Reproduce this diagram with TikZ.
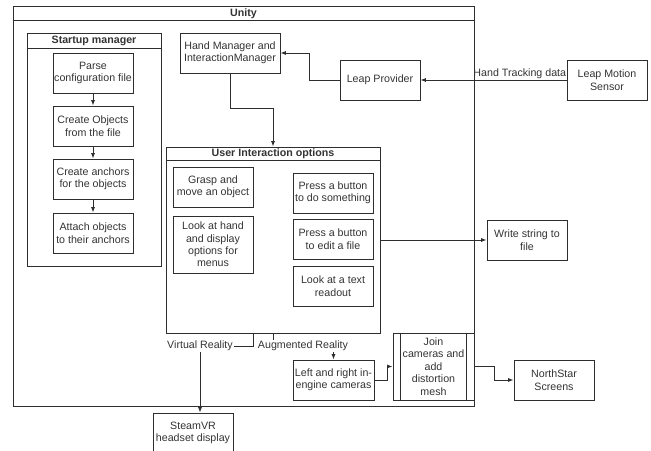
\documentclass[tikz,border=0pt]{standalone}
\usepackage{fontspec}
\setmainfont{Liberation Sans}
\usepackage{tikz}
\usetikzlibrary{arrows.meta,positioning,calc}
\definecolor{ink}{HTML}{333333}
\definecolor{edge}{HTML}{2E2E2E}
\definecolor{white}{HTML}{FFFFFF}

\begin{document}
\begin{tikzpicture}[x=0.03cm,y=-0.03cm, every node/.style={font=\fontsize{9.1}{10.6}\selectfont,text=ink}, bx/.style={draw=edge,line width=.8pt,minimum width=2.4cm,minimum height=1.2cm,align=center,inner sep=.5pt}, frame/.style={draw=edge,line width=.8pt,inner sep=0pt}, ttl/.style={font=\fontsize{9.1}{10.6}\selectfont\bfseries}, lbl/.style={inner sep=1pt}, ln/.style={draw=edge,line width=.8pt}, arr/.style={draw=edge,line width=.8pt,-{Latex[length=1.6mm,width=1.2mm]}}]
\clip (0,0) rectangle (651,450);
\node[frame,minimum width=13.83cm,minimum height=12cm] (unity) at (243.5,206) {};
\draw[ln] ([yshift=-.45cm]unity.north west)--([yshift=-.45cm]unity.north east);
\node[ttl] (unityt) at (243.5,14) {Unity};
\node[frame,minimum width=4.02cm,minimum height=6.99cm] (startup) at (94,149.5) {};
\draw[ln] ([yshift=-.48cm]startup.north west)--([yshift=-.48cm]startup.north east);
\node[ttl] (startupt) at (94,41) {Startup manager};
\node[bx] (parse) at (93,73)  {Parse\\configuration file};
\node[bx] (objs)  at (93,126) {Create Objects\\from the file};
\node[bx] (anch)  at (93,179) {Create anchors\\for the objects};
\node[bx] (att)   at (93,233) {Attach objects\\to their anchors};
\draw[arr] (parse.south)--(objs.north);
\draw[arr] (objs.south)--(anch.north);
\draw[arr] (anch.south)--(att.north);
\node[bx,minimum width=3cm] (hand) at (230,53) {Hand Manager and\\InteractionManager};
\node[bx] (prov)   at (380,80) {Leap Provider};
\node[bx] (sensor) at (607,80) {Leap Motion\\Sensor};
\draw[arr] (sensor.west)--node[lbl,above,pos=.32] (htd) {Hand Tracking data} (prov.east);
\draw[arr] (prov.west)--++(-30,0)|-(hand.east);
\node[frame,minimum width=6.42cm,minimum height=5.58cm] (ui) at (273,240) {};
\draw[ln] ([yshift=-.42cm]ui.north west)--([yshift=-.42cm]ui.north east);
\node[ttl] (uit) at (273,154) {User Interaction options};
\draw[arr] (hand.south)--++(0,35)-|(ui.north);
\node[bx] (grasp) at (213,187) {Grasp and\\move an object};
\node[bx,minimum height=1.71cm] (look) at (213,244.5) {Look at hand\\and display\\options for\\menus};
\node[bx] (press) at (333,193) {Press a button\\to do something};
\node[bx] (edit)  at (333,239) {Press a button\\to edit a file};
\node[bx] (read)  at (333,286) {Look at a text\\readout};
\node[bx] (write) at (527,240) {Write string to\\file};
\draw[arr] (ui.east)--(write.west);
\node[lbl] (vr) at (200,346) {Virtual Reality};
\node[lbl] (ar) at (303,346) {Augmented Reality};
\node[bx,minimum width=2.43cm] (lrcam) at (333.5,380) {Left and right in-\\engine cameras};
\node[bx,minimum width=2.43cm,minimum height=2.01cm] (join) at (433.5,366.5) {Join\\cameras and\\add\\distortion\\mesh};
\draw[ln] ([xshift=.24cm]join.north west)--([xshift=.24cm]join.south west);
\draw[ln] ([xshift=-.24cm]join.north east)--([xshift=-.24cm]join.south east);
\node[bx] (ns) at (554,380) {NorthStar\\Screens};
\node[bx] (steam) at (193,433) {SteamVR\\headset display};
\draw[ln] ($(ui.south)+(-20,0)$)|-(vr.east);
\draw[arr] (vr.south)--(vr.south |- steam.north);
\draw[ln] (ui.south)--(ui.south |- ar.north);
\draw[arr] (ar.south -| lrcam.north)--(lrcam.north);
\draw[arr] (lrcam.east)--++(13,0)|-(join.west);
\draw[arr] (join.east)--++(20,0)|-(ns.west);
\end{tikzpicture}
\end{document}
